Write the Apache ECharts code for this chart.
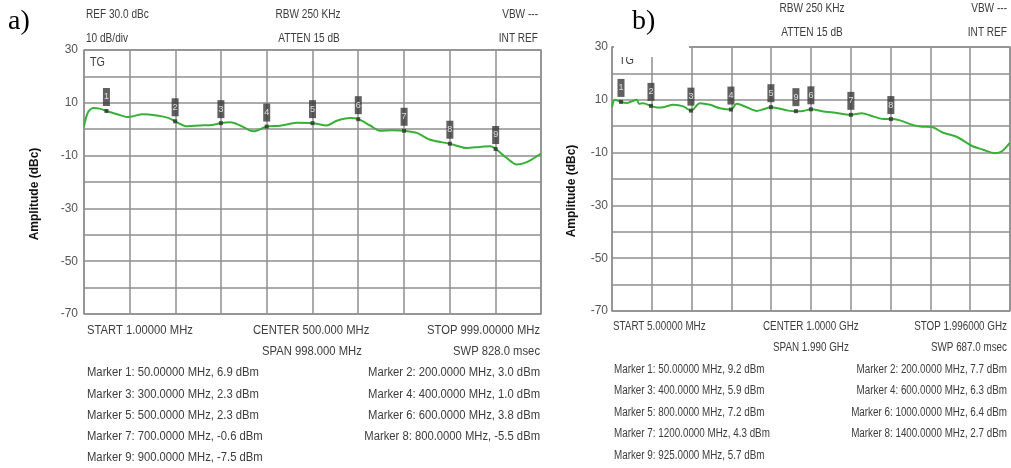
<!DOCTYPE html>
<html>
<head>
<meta charset="utf-8">
<script src="https://cdn.jsdelivr.net/npm/echarts@6/dist/echarts.min.js"></script>
<style>html,body{margin:0;padding:0;background:#fff}#c{width:1011px;height:468px}</style>
</head>
<body>
<div id="c"></div>
<script>
// ---- Panel a data (MHz, dBc) ----
const aFreqMHz = [1,10,21,35,50,75,97,130,160,185,200,226,254,280,300,320,342,371,400,429,466,500,531,553,582,600,626,647,676,700,728,757,800,837,866,888,900,924,946,968,999];
const aAmpDbc  = [1.1,6.5,8.0,7.8,6.9,5.6,4.6,5.7,5.2,4.3,3.0,1.1,1.4,1.6,2.3,2.6,1.4,-0.8,1.0,1.3,2.4,2.3,1.4,3.2,4.2,3.8,1.4,-0.6,-0.4,-0.6,-1.4,-4.0,-5.5,-7.1,-6.7,-6.5,-7.5,-10.9,-13.4,-12.5,-9.2];
const aMarkerNum  = ['1','2','3','4','5','6','7','8','9'];
const aMarkerFreq = [50,200,300,400,500,600,700,800,900];
const aMarkerAmp  = [6.9,3.0,2.3,1.0,2.3,3.8,-0.6,-5.5,-7.5];

// ---- Panel b data (MHz, dBc) ----
const bFreqMHz = [5,20,50,79,104,129,140,160,200,229,262,312,362,400,445,495,545,600,629,679,729,762,800,845,887,925,962,1000,1062,1112,1162,1200,1254,1312,1362,1400,1446,1496,1546,1604,1662,1729,1804,1862,1921,1954,1996];
const bAmpDbc  = [7.2,10.0,9.2,8.8,9.4,10.0,8.5,8.7,7.7,7.1,7.2,8.1,7.5,5.9,8.7,8.1,6.8,6.3,8.5,7.2,5.8,6.4,7.2,6.6,5.9,5.7,5.8,6.4,5.6,5.2,4.6,4.3,4.9,3.7,2.7,2.7,2.2,0.8,-0.1,-0.3,-2.5,-4.0,-7.4,-8.9,-10.2,-9.6,-6.2];
const bMarkerNum  = ['1','2','3','4','5','9','6','7','8'];
const bMarkerFreq = [50,200,400,600,800,925,1000,1200,1400];
const bMarkerAmp  = [9.2,7.7,5.9,6.3,7.2,5.7,6.4,4.3,2.7];

// ---- Axis settings ----
const yMin = -70, yMax = 30, yStep = 10;
const yTickLabels = ['30','10','-10','-30','-50','-70'];
const aRange = [1, 999], bRange = [5, 1996];

// ---- Annotation texts ----
const aHeaderLeft  = ['REF 30.0 dBc','10 dB/div'];
const aHeaderMid   = ['RBW 250 KHz','ATTEN 15 dB'];
const aHeaderRight = ['VBW ---','INT REF'];
const aFootTop  = ['START 1.00000 MHz','CENTER 500.000 MHz','STOP 999.00000 MHz'];
const aFootSpan = ['SPAN 998.000 MHz','SWP 828.0 msec'];
const aMarkLeft  = ['Marker 1: 50.00000 MHz, 6.9 dBm','Marker 3: 300.0000 MHz, 2.3 dBm','Marker 5: 500.0000 MHz, 2.3 dBm','Marker 7: 700.0000 MHz, -0.6 dBm','Marker 9: 900.0000 MHz, -7.5 dBm'];
const aMarkRight = ['Marker 2: 200.0000 MHz, 3.0 dBm','Marker 4: 400.0000 MHz, 1.0 dBm','Marker 6: 600.0000 MHz, 3.8 dBm','Marker 8: 800.0000 MHz, -5.5 dBm'];
const bHeaderMid   = ['RBW 250 KHz','ATTEN 15 dB'];
const bHeaderRight = ['VBW ---','INT REF'];
const bFootTop  = ['START 5.00000 MHz','CENTER 1.0000 GHz','STOP 1.996000 GHz'];
const bFootSpan = ['SPAN 1.990 GHz','SWP 687.0 msec'];
const bMarkLeft  = ['Marker 1: 50.00000 MHz, 9.2 dBm','Marker 3: 400.0000 MHz, 5.9 dBm','Marker 5: 800.0000 MHz, 7.2 dBm','Marker 7: 1200.0000 MHz, 4.3 dBm','Marker 9: 925.0000 MHz, 5.7 dBm'];
const bMarkRight = ['Marker 2: 200.0000 MHz, 7.7 dBm','Marker 4: 600.0000 MHz, 6.3 dBm','Marker 6: 1000.0000 MHz, 6.4 dBm','Marker 8: 1400.0000 MHz, 2.7 dBm'];

const GRID = '#8f8f8f', GREEN = '#38b038', TXT = '#3c3c3c';
const chart = echarts.init(document.getElementById('c'));

function T(x, y, text, align, size, sx, extra) {
  return Object.assign({
    type: 'text', x: x, y: y, scaleX: sx, scaleY: 1, z: 60, silent: true,
    style: Object.assign({
      text: text, x: 0, y: 0, textAlign: align, textVerticalAlign: 'middle',
      align: align, verticalAlign: 'middle',
      font: size + 'px "Liberation Sans", Arial, sans-serif', fill: TXT
    }, (extra && extra.style) || {})
  }, (extra && extra.el) || {});
}

const g = [];
// panel a texts
g.push(T(86, 15, aHeaderLeft[0], 'left', 12, 0.84));
g.push(T(86, 39, aHeaderLeft[1], 'left', 12, 0.84));
g.push(T(308, 15, aHeaderMid[0], 'center', 12, 0.84));
g.push(T(309, 39, aHeaderMid[1], 'center', 12, 0.84));
g.push(T(538, 15, aHeaderRight[0], 'right', 12, 0.84));
g.push(T(538, 39, aHeaderRight[1], 'right', 12, 0.84));
g.push(T(87, 331, aFootTop[0], 'left', 12.5, 0.9));
g.push(T(253, 331, aFootTop[1], 'left', 12.5, 0.9));
g.push(T(540, 331, aFootTop[2], 'right', 12.5, 0.9));
g.push(T(262, 352, aFootSpan[0], 'left', 12.5, 0.9));
g.push(T(540, 352, aFootSpan[1], 'right', 12.5, 0.9));
const aRows = [373, 395, 416, 437, 458];
aMarkLeft.forEach((s, i) => g.push(T(87, aRows[i], s, 'left', 12.5, 0.9)));
aMarkRight.forEach((s, i) => g.push(T(540, aRows[i], s, 'right', 12.5, 0.9)));
g.push(T(90, 63, 'TG', 'left', 12, 0.9));
g.push(T(8, 22, 'a)', 'left', 28, 1, {style: {font: '28px "Liberation Serif", "Times New Roman", serif', fill: '#000'}}));
g.push(T(35, 194, 'Amplitude (dBc)', 'center', 12, 1, {el: {rotation: Math.PI / 2}, style: {font: 'bold 12px "Liberation Sans", Arial, sans-serif', fill: '#111'}}));

// panel b texts
g.push(T(619, 61, 'TG', 'left', 12, 0.9, {el: {z: 55}}));
g.push({type: 'rect', z: 58, silent: true, shape: {x: 614, y: 0, width: 75, height: 57}, style: {fill: '#fff'}});
g.push(T(632, 22, 'b)', 'left', 28, 1, {style: {font: '28px "Liberation Serif", "Times New Roman", serif', fill: '#000'}}));
g.push(T(812, 9, bHeaderMid[0], 'center', 12, 0.84));
g.push(T(812, 33, bHeaderMid[1], 'center', 12, 0.84));
g.push(T(1007, 9, bHeaderRight[0], 'right', 12, 0.84));
g.push(T(1007, 33, bHeaderRight[1], 'right', 12, 0.84));
g.push(T(613, 327, bFootTop[0], 'left', 12, 0.82));
g.push(T(763, 327, bFootTop[1], 'left', 12, 0.82));
g.push(T(1007, 327, bFootTop[2], 'right', 12, 0.82));
g.push(T(773, 348, bFootSpan[0], 'left', 12, 0.82));
g.push(T(1007, 348, bFootSpan[1], 'right', 12, 0.82));
const bRows = [370, 391, 413, 434, 456];
bMarkLeft.forEach((s, i) => g.push(T(614, bRows[i], s, 'left', 12, 0.82)));
bMarkRight.forEach((s, i) => g.push(T(1007, bRows[i], s, 'right', 12, 0.82)));
g.push(T(572, 191, 'Amplitude (dBc)', 'center', 12, 1, {el: {rotation: Math.PI / 2}, style: {font: 'bold 12px "Liberation Sans", Arial, sans-serif', fill: '#111'}}));

function divAxis(gi) {
  return {gridIndex: gi, type: 'value', min: 0, max: 10, interval: 1,
    axisLine: {show: false}, axisTick: {show: false}, axisLabel: {show: false},
    splitLine: {show: true, lineStyle: {color: GRID, width: 1.5}}};
}
function yAxis(gi, margin) {
  return {gridIndex: gi, type: 'value', min: yMin, max: yMax, interval: yStep,
    axisLine: {show: false}, axisTick: {show: false},
    axisLabel: {margin: margin, color: '#555', fontSize: 12, fontFamily: '"Liberation Sans", Arial, sans-serif',
      formatter: v => (yTickLabels.indexOf(String(v)) >= 0 ? String(v) : '')},
    splitLine: {show: true, lineStyle: {color: GRID, width: 1.5}}};
}
function markerSeries(xi, yi, nums, fr, amp) {
  return {type: 'scatter', xAxisIndex: xi, yAxisIndex: yi, symbol: 'rect', symbolSize: 4, z: 5,
    itemStyle: {color: '#2f2f2f'},
    label: {show: true, position: 'top', distance: 3, formatter: '{b}', color: '#fff', fontSize: 9,
      fontFamily: '"Liberation Sans", Arial, sans-serif', backgroundColor: '#3a3a3a', padding: [4, 1], lineHeight: 10},
    data: nums.map((n, i) => ({name: n, value: [fr[i], amp[i]]}))};
}

const option = {
  animation: false,
  backgroundColor: '#fff',
  grid: [
    {left: 84, top: 50, width: 457, height: 264, show: true, borderColor: GRID, borderWidth: 1.5, backgroundColor: '#fff'},
    {left: 612, top: 47, width: 398, height: 264, show: true, borderColor: GRID, borderWidth: 1.5, backgroundColor: '#fff'}
  ],
  xAxis: [
    {gridIndex: 0, type: 'value', min: aRange[0], max: aRange[1], show: false},
    divAxis(0),
    {gridIndex: 1, type: 'value', min: bRange[0], max: bRange[1], show: false},
    divAxis(1)
  ],
  yAxis: [yAxis(0, 6), yAxis(1, 4)],
  series: [
    {type: 'line', xAxisIndex: 0, yAxisIndex: 0, smooth: 0.3, showSymbol: false, z: 3,
      lineStyle: {color: GREEN, width: 2}, data: aFreqMHz.map((f, i) => [f, aAmpDbc[i]])},
    markerSeries(0, 0, aMarkerNum, aMarkerFreq, aMarkerAmp),
    {type: 'line', xAxisIndex: 2, yAxisIndex: 1, smooth: 0.3, showSymbol: false, z: 3,
      lineStyle: {color: GREEN, width: 2}, data: bFreqMHz.map((f, i) => [f, bAmpDbc[i]])},
    markerSeries(2, 1, bMarkerNum, bMarkerFreq, bMarkerAmp)
  ],
  graphic: {elements: g}
};
chart.setOption(option);
</script>
</body>
</html>
